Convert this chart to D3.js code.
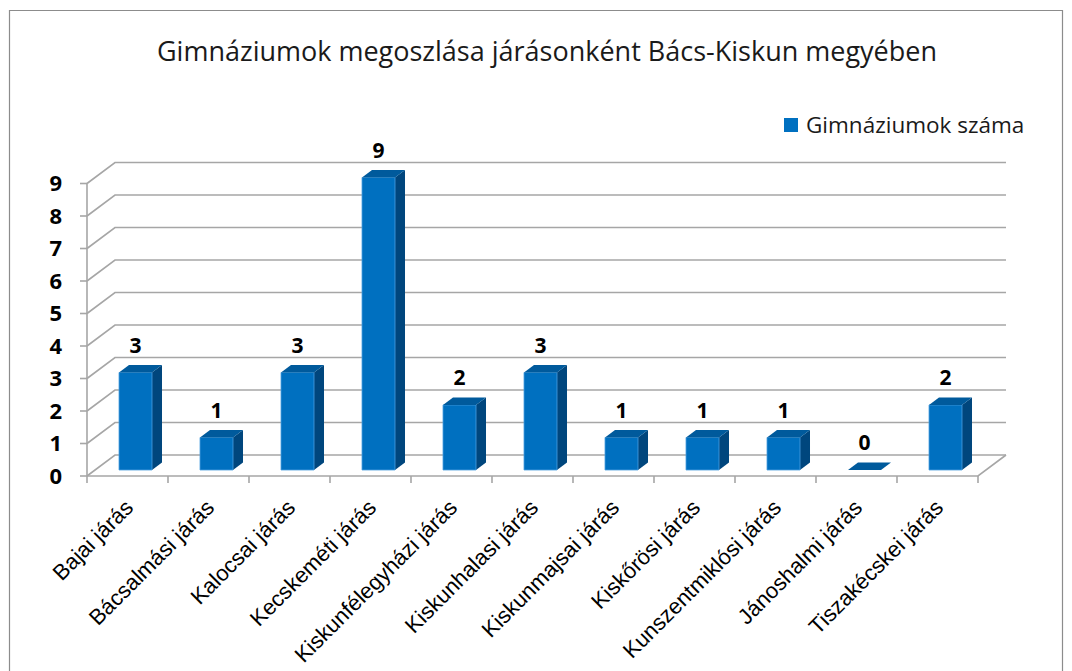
<!DOCTYPE html>
<html><head><meta charset="utf-8">
<script src="https://cdn.jsdelivr.net/npm/d3@7"></script>
<style>html,body{margin:0;padding:0;background:#fff;}svg{display:block;}</style>
</head><body>
<svg id="chart" width="1072" height="671"></svg>
<script>
const categories = ["Bajai járás","Bácsalmási járás","Kalocsai járás","Kecskeméti járás","Kiskunfélegyházi járás","Kiskunhalasi járás","Kiskunmajsai járás","Kiskőrösi járás","Kunszentmiklósi járás","Jánoshalmi járás","Tiszakécskei járás"];
const values = [3,1,3,9,2,3,1,1,1,0,2];
const yTicks = [0,1,2,3,4,5,6,7,8,9];
const seriesName = "Gimnáziumok száma";
const chartTitle = "Gimnáziumok megoszlása járásonként Bács-Kiskun megyében";

(function(){
const svg = d3.select("#chart");
svg.append("path").attr("d","M9.5,680 V10.5 H1062.5 V680").attr("fill","none").attr("stroke","#8c8c8c").attr("stroke-width",1.2);

svg.append("text").attr("x",547).attr("y",61).attr("text-anchor","middle")
  .attr("font-family","'Open Sans', sans-serif").attr("font-size",27).attr("fill","#1a1a1a").text(chartTitle);

const left = 87, right = 978;
const x = d3.scaleBand().domain(categories).range([left,right]).paddingInner(0).paddingOuter(0);
const y = d3.scaleLinear().domain([0,9]).range([476,183.5]);
const DX = 28, DY = 21;
const P = (px, v, z) => [px + z*DX, y(v) - z*DY];

const grid = svg.append("g");
const gc = "#a6a6a6";
yTicks.forEach(t => {
  const a = P(left,t,0), b = P(left,t,1), c = P(right,t,1);
  grid.append("path").attr("d",`M${a[0]},${a[1]} L${b[0]},${b[1]} L${c[0]},${c[1]}`)
    .attr("fill","none").attr("stroke",gc).attr("stroke-width",1.6);
});
{
  const a = P(left,0,0), b = P(right,0,0), c = P(right,0,1);
  grid.append("path").attr("d",`M${a[0]},${a[1]} L${b[0]},${b[1]} L${c[0]},${c[1]}`)
    .attr("fill","none").attr("stroke",gc).attr("stroke-width",1.6);
}
grid.append("line").attr("x1",left).attr("x2",left).attr("y1",y(0)).attr("y2",y(9)).attr("stroke",gc).attr("stroke-width",1.6);
yTicks.forEach(t => {
  grid.append("line").attr("x1",left-7).attr("x2",left).attr("y1",y(t)).attr("y2",y(t)).attr("stroke",gc).attr("stroke-width",1.6);
  svg.append("text").attr("x",62).attr("y",y(t)).attr("dy","0.36em").attr("text-anchor","end")
    .attr("font-family","'Noto Sans', sans-serif").attr("font-weight","bold").attr("font-size",22).attr("fill","#000").text(t);
});
d3.range(categories.length+1).forEach(i => {
  const px = left + i*x.step();
  grid.append("line").attr("x1",px).attr("x2",px).attr("y1",y(0)).attr("y2",y(0)+7).attr("stroke",gc).attr("stroke-width",1.6);
});
categories.forEach(c => {
  const cx = x(c) + x.bandwidth()/2;
  svg.append("text").attr("transform",`translate(${cx+7},${509}) rotate(-45)`).attr("text-anchor","end")
    .attr("font-family","'Liberation Sans', Arial, sans-serif").attr("font-size",22).attr("fill","#000").text(c);
});

const z1 = 0.286, z2 = 0.643, bw = 33;
const frontC = "#0070c0", sideC = "#00467d", topC = "#005a9c";
const bars = svg.append("g");
categories.forEach((c,i) => {
  const v = values[i];
  const cx = x(c) + x.bandwidth()/2;
  const xl = cx - bw/2, xr = cx + bw/2;
  const f0 = P(xl,0,z1), f1 = P(xr,0,z1), f2 = P(xr,v,z1), f3 = P(xl,v,z1);
  const b1 = P(xr,0,z2), b2 = P(xr,v,z2), b3 = P(xl,v,z2);
  const pts = a => a.map(p=>p.join(",")).join(" ");
  if (v > 0) {
    bars.append("polygon").attr("points",pts([f1,b1,b2,f2])).attr("fill",sideC);
    bars.append("polygon").attr("points",pts([f0,f1,f2,f3])).attr("fill",frontC).attr("stroke","#4a9ee0").attr("stroke-width",0.8);
  }
  bars.append("polygon").attr("points",pts([f3,f2,b2,b3])).attr("fill",topC);
  const labX = (f0[0]+f1[0])/2;
  svg.append("text").attr("x",labX).attr("y",b3[1]-12).attr("text-anchor","middle")
    .attr("font-family","'Noto Sans', sans-serif").attr("font-weight","bold").attr("font-size",21).attr("fill","#000").text(v);
});

svg.append("rect").attr("x",784).attr("y",118).attr("width",14).attr("height",14).attr("fill",frontC);
svg.append("text").attr("x",806).attr("y",125).attr("dy","0.36em").attr("font-family","'Open Sans', sans-serif")
  .attr("font-size",22.5).attr("fill","#1a1a1a").text(seriesName);
})();
</script>
</body></html>
